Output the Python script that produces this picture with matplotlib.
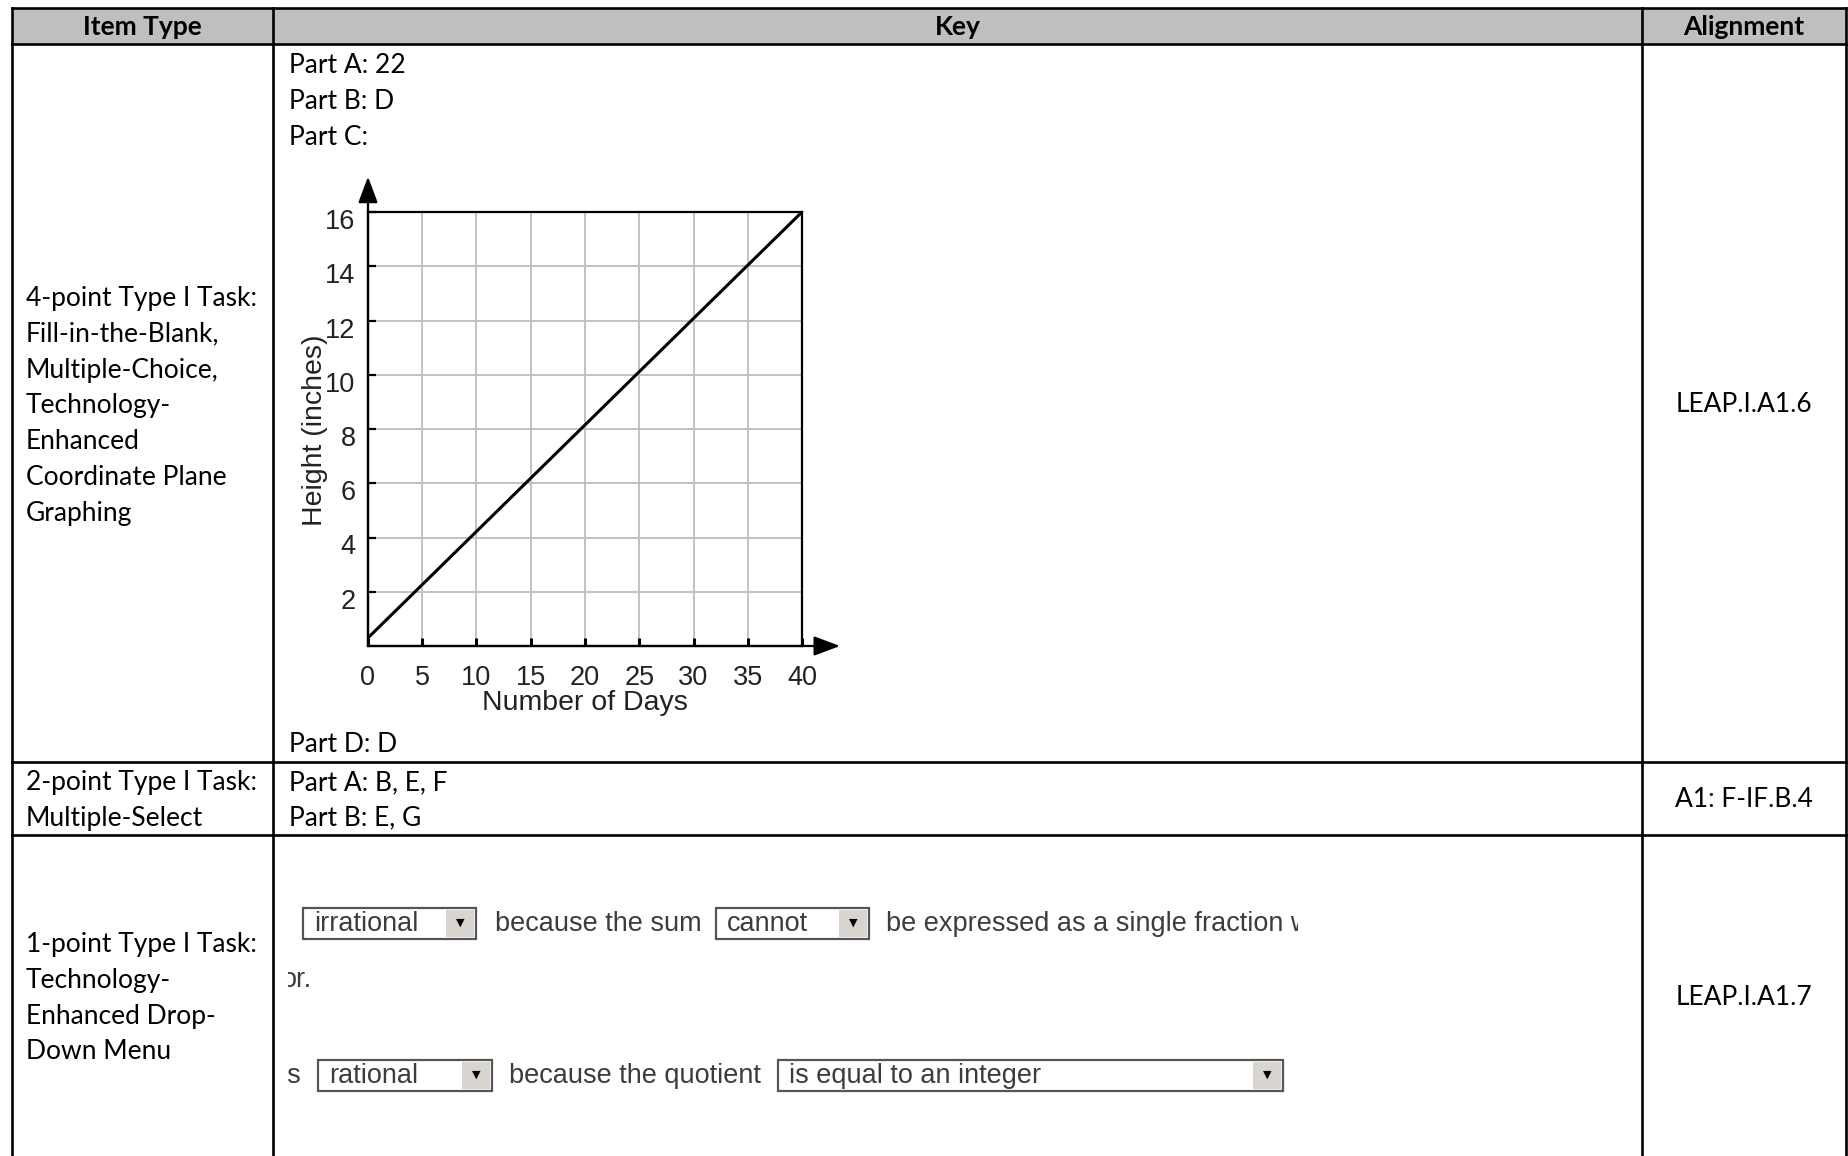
import matplotlib
matplotlib.use("Agg")
import matplotlib.pyplot as plt
from matplotlib.patches import Rectangle
from matplotlib.transforms import ScaledTranslation

W, H = 1849, 1156
DPI = 100

# ---------------- data ----------------
headers = ["Item Type", "Key", "Alignment"]
item_row1 = ["4-point Type I Task:", "Fill-in-the-Blank,", "Multiple-Choice,",
             "Technology-", "Enhanced", "Coordinate Plane", "Graphing"]
item_row2 = ["2-point Type I Task:", "Multiple-Select"]
item_row3 = ["1-point Type I Task:", "Technology-", "Enhanced Drop-", "Down Menu"]
keys_row1_top = ["Part A: 22", "Part B: D", "Part C:"]
keys_row1_bottom = ["Part D: D"]
keys_row2 = ["Part A: B, E, F", "Part B: E, G"]
alignments = ["LEAP.I.A1.6", "A1: F-IF.B.4", "LEAP.I.A1.7"]

days = [0, 40]
height_in = [0.3, 16]
x_ticks = [0, 5, 10, 15, 20, 25, 30, 35, 40]
y_ticks = [2, 4, 6, 8, 10, 12, 14, 16]
x_label = "Number of Days"
y_label = "Height (inches)"

dd_line1_choice1 = "irrational"
dd_line1_text1 = "because the sum"
dd_line1_choice2 = "cannot"
dd_line1_text2 = "be expressed as a single fraction w"
dd_line2_text = "or."
dd_line3_prefix = "is"
dd_line3_choice1 = "rational"
dd_line3_text1 = "because the quotient"
dd_line3_choice2 = "is equal to an integer"

# ---------------- layout ----------------
TFONT = "Lato"
TSIZE = 19
AFONT = "Liberation Sans"

fig = plt.figure(figsize=(W / DPI, H / DPI), dpi=DPI)
tab = fig.add_axes([0, 0, 1, 1])
tab.set_xlim(0, W)
tab.set_ylim(H, 0)
tab.axis("off")

XL, C1, C2, XR = 12, 273, 1642, 1846
YT, YH, R1, R2 = 8, 44, 762, 835
LW = 1.9

tab.add_patch(Rectangle((XL, YT), XR - XL, YH - YT, facecolor="#bfbfbf",
                        edgecolor="none", zorder=0))
for y in (YT, YH, R1, R2):
    tab.plot([XL, XR], [y, y], color="black", lw=LW, solid_capstyle="projecting")
for x in (XL, C1, C2, XR):
    tab.plot([x, x], [YT, H + 5], color="black", lw=LW, solid_capstyle="projecting")

BASE = 9  # baseline offset from visual center
tab.text((XL + C1) / 2, 26 + BASE, headers[0], ha="center", va="baseline",
         fontsize=TSIZE, fontweight="bold", family=TFONT)
tab.text((C1 + C2) / 2, 26 + BASE, headers[1], ha="center", va="baseline",
         fontsize=TSIZE, fontweight="bold", family=TFONT)
tab.text((C2 + XR) / 2, 26 + BASE, headers[2], ha="center", va="baseline",
         fontsize=TSIZE, fontweight="bold", family=TFONT)

LS = 35.8


def lines(x, y0, items, ha="left"):
    for i, s in enumerate(items):
        tab.text(x, y0 + i * LS + BASE, s, ha=ha, va="baseline",
                 fontsize=TSIZE, family=TFONT, color="black")


lines(26, 297, item_row1)
lines(26, 781, item_row2)
lines(26, 943, item_row3)
lines(289, 64, keys_row1_top)
lines(289, 743, keys_row1_bottom)
lines(289, 781, keys_row2)
lines((C2 + XR) / 2, 403, [alignments[0]], ha="center")
lines((C2 + XR) / 2, 798, [alignments[1]], ha="center")
lines((C2 + XR) / 2, 996, [alignments[2]], ha="center")

# ---------------- drop-down answers ----------------
DSIZE = 19.5
DCOL = "#3c3c3c"


def dropdown(x0, x1, yc, label):
    h = 31
    tab.add_patch(Rectangle((x0, yc - h / 2), x1 - x0, h, facecolor="white",
                            edgecolor="#555555", lw=1.6, zorder=2))
    tab.add_patch(Rectangle((x1 - 30, yc - h / 2 + 2), 28, h - 4,
                            facecolor="#d8d5d0", edgecolor="none", zorder=3))
    tab.text(x1 - 16, yc, "\u25BC", ha="center", va="center", fontsize=8,
             color="black", family="DejaVu Sans", zorder=4)
    tab.text(x0 + 11, yc + 8, label, ha="left", va="baseline", fontsize=DSIZE,
             family=AFONT, color=DCOL, zorder=4)


def plain(x, yc, s, clip=None):
    t = tab.text(x, yc + 8, s, ha="left", va="baseline", fontsize=DSIZE,
                 family=AFONT, color=DCOL, clip_on=clip is not None)
    if clip is not None:
        r = Rectangle((clip[0], 0), clip[1] - clip[0], H, transform=tab.transData,
                      facecolor="none", edgecolor="none")
        tab.add_patch(r)
        t.set_clip_path(r)


y1, y2, y3 = 923, 979, 1075
dropdown(303, 476, y1, dd_line1_choice1)
plain(495, y1, dd_line1_text1)
dropdown(716, 869, y1, dd_line1_choice2)
plain(886, y1, dd_line1_text2, clip=(880, 1298))
plain(282, y2, dd_line2_text, clip=(288, 400))
plain(281, y3, dd_line3_prefix, clip=(288, 310))
dropdown(318, 492, y3, dd_line3_choice1)
plain(509, y3, dd_line3_text1)
dropdown(778, 1283, y3, dd_line3_choice2)

# ---------------- embedded graph ----------------
ax = fig.add_axes([368 / W, (H - 646) / H, 434 / W, 434 / H])
ax.set_xlim(0, 40)
ax.set_ylim(0, 16)
ax.set_xticks(x_ticks)
ax.set_yticks(y_ticks)
ax.grid(True, color="#c2c2c2", lw=1.4)
ax.set_axisbelow(True)
for sp in ax.spines.values():
    sp.set_color("black")
    sp.set_linewidth(1.6)
ax.plot(days, height_in, color="black", lw=2.2, solid_capstyle="butt", zorder=3)

ax.tick_params(axis="y", direction="in", length=6, width=1.6, pad=9,
               labelsize=19.5, labelcolor="#222222")
ax.tick_params(axis="x", direction="in", length=6, width=2.2, pad=14,
               labelsize=19.5, labelcolor="#222222")
for lab in ax.get_yticklabels() + ax.get_xticklabels():
    lab.set_family(AFONT)
off = ScaledTranslation(0, -7 / DPI, fig.dpi_scale_trans)
for lab in ax.get_yticklabels():
    lab.set_transform(lab.get_transform() + off)

ax.set_xlabel(x_label, fontsize=20.5, family=AFONT, color="#222222")
ax.set_ylabel(y_label, fontsize=20.5, family=AFONT, color="#222222")
ax.xaxis.set_label_coords(0.5, -0.131)
ax.xaxis.label.set_va("center")
ax.yaxis.set_label_coords(-0.122, 0.498)
ax.yaxis.label.set_va("center")

arrow_style = "-|>,head_length=0.8,head_width=0.3"
ax.annotate("", xy=(0, 17.3), xytext=(0, 0),
            arrowprops=dict(arrowstyle=arrow_style, color="black", lw=1.6,
                            mutation_scale=20, shrinkA=0, shrinkB=0),
            annotation_clip=False)
ax.annotate("", xy=(43.5, 0), xytext=(0, 0),
            arrowprops=dict(arrowstyle=arrow_style, color="black", lw=1.6,
                            mutation_scale=20, shrinkA=0, shrinkB=0),
            annotation_clip=False)

fig.savefig("out.png", dpi=DPI)
